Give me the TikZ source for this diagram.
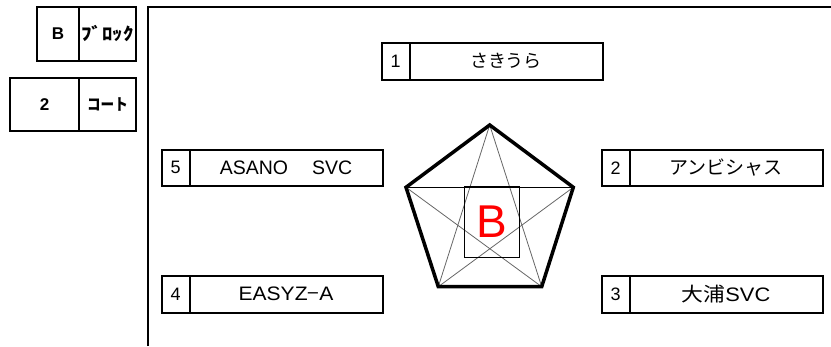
\documentclass[tikz,border=0pt]{standalone}
\usepackage{fontspec}
\setmainfont{Liberation Sans}
\newfontfamily\jp{Noto Sans CJK JP}
\usepackage{graphicx}
\begin{document}
\begin{tikzpicture}[x=1pt,y=-1pt,
  cell/.style={draw,line width=2pt,rectangle,inner sep=0pt,outer sep=0pt,anchor=north west,font=\fontsize{18}{18}\selectfont},
  numcell/.style={cell,minimum width=27.5pt,minimum height=36.5pt},
  namecell/.style={cell,minimum width=193pt,minimum height=36.5pt,font=\fontsize{19.5}{19.5}\selectfont},
  keycell/.style={cell,font=\bfseries\fontsize{17}{17}\selectfont},
  thinline/.style={line width=0.8pt,black!60},
  pent/.style={line width=3.5pt,line join=miter}]
\useasboundingbox (0,0) rectangle (831,346);
% frame
\draw[line width=2pt] (148,346) -- (148,6.5) -- (831,6.5);
% key boxes
\node[keycell,minimum width=42pt,minimum height=54pt] (kb) at (37,7) {B};
\node[keycell,minimum width=57pt,minimum height=54pt] (kbl) at (79,7) {\jp\bfseries\fontsize{16}{16}\selectfont\scalebox{1.3}[1.1]{ﾌﾞﾛｯｸ}};
\node[keycell,minimum width=69pt,minimum height=53pt] (k2) at (10,78) {2};
\node[keycell,minimum width=57pt,minimum height=53pt] (k2l) at (79,78) {\jp\bfseries\fontsize{16}{16}\selectfont\scalebox{0.85}[1]{コート}};
% station boxes
\node[numcell] (n1) at (382,43) {1};
\node[namecell] (s1) at (409.5,43) {\jp\fontsize{18}{18}\selectfont さきうら};
\node[numcell] (n5) at (162,149.5) {5};
\node[namecell] (s5) at (189.5,149.5) {ASANO\hspace{24pt}SVC};
\node[numcell] (n2) at (602,149.5) {2};
\node[namecell] (s2) at (629.5,149.5) {\jp\fontsize{19}{19}\selectfont アンビシャス};
\node[numcell] (n4) at (162,276) {4};
\node[namecell] (s4) at (189.5,276) {\scalebox{1.08}[1]{EASYZ{\jp −}A}};
\node[numcell] (n3) at (602,276) {3};
\node[namecell] (s3) at (629.5,276) {\scalebox{1.12}[1]{{\jp 大浦}SVC}};
% pentagon
\coordinate (T) at (489.7,125);
\coordinate (L) at (406,187.3);
\coordinate (R) at (573.3,187.3);
\coordinate (BL) at (438.3,286.7);
\coordinate (BR) at (541.7,286.7);
\draw[thinline] (T) -- (BL);
\draw[thinline] (T) -- (BR);
\draw[thinline] (L) -- (BR);
\draw[thinline] (R) -- (BL);
\draw[line width=1pt] (L) -- (R);
\node[draw,line width=1pt,minimum width=55pt,minimum height=70.6pt,inner sep=0pt,text=red,font=\fontsize{46}{46}\selectfont] (cb) at (491.8,222) {B};
\draw[pent] (T) -- (R) -- (BR) -- (BL) -- (L) -- cycle;
\end{tikzpicture}
\end{document}
